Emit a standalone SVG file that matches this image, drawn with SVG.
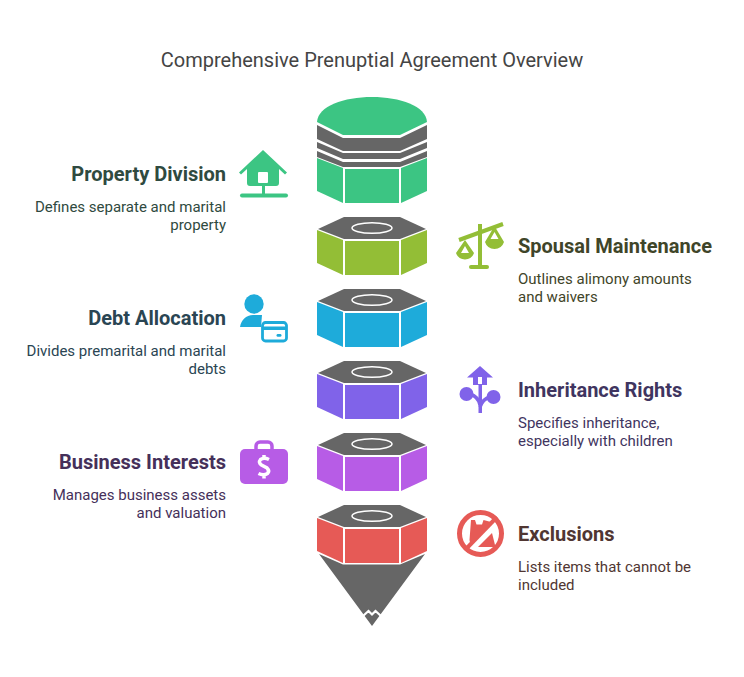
<svg xmlns="http://www.w3.org/2000/svg" width="744" height="677" viewBox="0 0 744 677">
<style>
text{font-family:Roboto,"Liberation Sans",sans-serif}
.title{font-size:20px;fill:#444}
.h{font-size:20px;font-weight:700}
.b{font-size:15px}
.e{text-anchor:end}
.g{fill:#666}
.ring{fill:none;stroke:#fff;stroke-width:1.5}
.green{fill:#3CC583}.olive{fill:#93BE36}.blue{fill:#1EABDA}.purple{fill:#8063E9}.violet{fill:#B75CE6}.red{fill:#E65A56}
</style>
<defs>
<g id="top"><path class="g" d="M344 217H400L426 229 400 239H344L318 229Z"/><ellipse class="ring" cx="372" cy="228" rx="20" ry="5.3"/></g>
<g id="sides"><path d="M317 230L343 240V275L317 263Z"/><rect x="345" y="241" width="54" height="34"/><path d="M401 240L427 230V263L401 275Z"/></g>
</defs>
<rect width="744" height="677" fill="#fff"/>
<text class="title" x="372" y="67" text-anchor="middle">Comprehensive Prenuptial Agreement Overview</text>

<g id="stack-1">
<path class="green" d="M317 122C318 106 344 97 372 97S426 106 427 122L400 135H343Z"/>
<path class="g" d="M317 125L343 138H400L427 125V139L400 151H343L317 139Z"/>
<path class="g" d="M317 142L343 153H400L427 142V148L400 159H343L317 148Z"/>
<path class="g" d="M317 151L343 162H400L427 151V157L400 167H343L317 157Z"/>
<path class="green" d="M317 158L343 168V203L317 191Z"/>
<rect class="green" x="345" y="169" width="54" height="34"/>
<path class="green" d="M401 168L427 158V191L401 203Z"/>
</g>
<g id="stack-2"><use href="#top"/><use href="#sides" class="olive"/></g>
<g id="stack-3" transform="translate(0 72)"><use href="#top"/><use href="#sides" class="blue"/></g>
<g id="stack-4" transform="translate(0 144)"><use href="#top"/><use href="#sides" class="purple"/></g>
<g id="stack-5" transform="translate(0 216)"><use href="#top"/><use href="#sides" class="violet"/></g>
<g id="stack-6" transform="translate(0 288)"><use href="#top"/><use href="#sides" class="red"/></g>
<g id="tip">
<path class="g" d="M319 554L343 564.500H400L425 554 372 626Z"/>
<path d="M363 616L368.500 611 372 614.500 375.500 611 381 616" fill="none" stroke="#fff" stroke-width="2.200"/>
</g>

<g id="property-division">
<path class="green" d="M263 150L287 172.500 285 174.500 279 169V183Q279 186 276 186H250Q247 186 247 183V169L241 174.500 239 172.500Z"/>
<rect x="258" y="172" width="10" height="11" rx="1" fill="#fff"/>
<rect class="green" x="262" y="186" width="3" height="8"/>
<rect class="green" x="240" y="193.500" width="48" height="4" rx="2"/>
<text class="h e" x="226" y="181" fill="#2F4A40">Property Division</text>
<text class="b e" x="226" y="212" fill="#2F4A40">Defines separate and marital</text>
<text class="b e" x="226" y="230" fill="#2F4A40">property</text>
</g>

<g id="spousal-maintenance">
<path d="M459 240L503 224" stroke="#93BE36" stroke-width="4" fill="none"/>
<rect class="olive" x="478" y="224" width="4" height="43"/>
<rect class="olive" x="469" y="265" width="20" height="4" rx="2"/>
<path class="olive" fill-rule="evenodd" d="M465 240L474 253A9.500 9.500 0 0 1 456 253ZM465 246L461 253H469Z"/>
<path class="olive" fill-rule="evenodd" d="M494.500 226L504 242A10 10 0 0 1 485 242ZM494.500 232L490.500 239H498.500Z"/>
<text class="h" x="518" y="253" fill="#3F4529">Spousal Maintenance</text>
<text class="b" x="518" y="284" fill="#3F4529">Outlines alimony amounts</text>
<text class="b" x="518" y="302" fill="#3F4529">and waivers</text>
</g>

<g id="debt-allocation">
<circle class="blue" cx="254" cy="304" r="9.700"/>
<path class="blue" d="M240 327C241 320 246 315 253 315H262L261 327Z"/>
<rect x="262.500" y="322.500" width="24" height="18.500" rx="3" fill="#fff" stroke="#1EABDA" stroke-width="2.800"/>
<rect class="blue" x="262" y="326.500" width="25" height="3.500"/>
<rect class="blue" x="276.500" y="334" width="5" height="2.800" rx="1.400"/>
<text class="h e" x="226" y="325" fill="#2A4553">Debt Allocation</text>
<text class="b e" x="226" y="356" fill="#2A4553">Divides premarital and marital</text>
<text class="b e" x="226" y="374" fill="#2A4553">debts</text>
</g>

<g id="inheritance-rights">
<path class="purple" fill-rule="evenodd" d="M480 366L493 377.500H487V385H482V413H478.500V385H473V377.500H467ZM478 377V384H482V377Z"/>
<circle class="purple" cx="466.500" cy="394" r="7"/>
<circle class="purple" cx="493.500" cy="397" r="7"/>
<path d="M470 394C476 396 479 399 480 405M490 397C486 398 482 401 480 407" fill="none" stroke="#8063E9" stroke-width="3.500"/>
<text class="h" x="518" y="397" fill="#3F3560">Inheritance Rights</text>
<text class="b" x="518" y="428" fill="#3F3560">Specifies inheritance,</text>
<text class="b" x="518" y="446" fill="#3F3560">especially with children</text>
</g>

<g id="business-interests">
<rect x="256" y="442" width="16" height="12" rx="4" fill="none" stroke="#B75CE6" stroke-width="3.500"/>
<rect class="violet" x="240" y="449" width="48" height="35" rx="5"/>
<path d="M269 459.500Q264 457 260.500 459.500 258 462.500 261.500 465L267 468Q270 471 267.500 473.500 263.500 476 258.500 473.500M264 455V459M264 474.500V478.500" fill="none" stroke="#fff" stroke-width="3.500"/>
<text class="h e" x="226" y="469" fill="#45305A">Business Interests</text>
<text class="b e" x="226" y="500" fill="#45305A">Manages business assets</text>
<text class="b e" x="226" y="518" fill="#45305A">and valuation</text>
</g>

<g id="exclusions">
<circle cx="480.500" cy="533.500" r="21" fill="none" stroke="#E65A56" stroke-width="5"/>
<path class="red" d="M471 520H475L476.500 524.500H482L483.500 520 491 522 470.500 545 469.500 540Z"/>
<path class="red" d="M492 533L495.500 547H478Z"/>
<path d="M465 550L497 517" stroke="#E65A56" stroke-width="4" fill="none"/>
<text class="h" x="518" y="541" fill="#503632">Exclusions</text>
<text class="b" x="518" y="572" fill="#503632">Lists items that cannot be</text>
<text class="b" x="518" y="590" fill="#503632">included</text>
</g>
</svg>
